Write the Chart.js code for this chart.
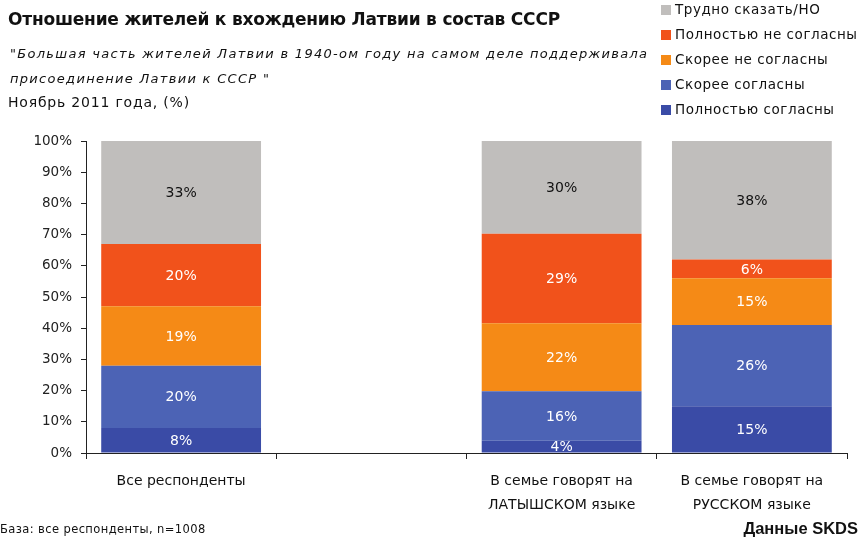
<!DOCTYPE html>
<html>
<head>
<meta charset="utf-8">
<script src="https://cdn.jsdelivr.net/npm/chart.js@4"></script>
<style>
  html, body { margin: 0; padding: 0; background: #fff; }
  body { width: 860px; height: 542px; position: relative; overflow: hidden; font-family: "DejaVu Sans", sans-serif; color: #111; }
  #chartBox { position: absolute; left: 0; top: 0; width: 860px; height: 542px; }
  .txt { position: absolute; white-space: nowrap; }
  #title { left: 8px; top: 9px; font-size: 17px; font-weight: bold; letter-spacing: -0.2px; }
  #sub1 { left: 10px; top: 46px; font-size: 13px; font-style: italic; letter-spacing: 1.3px; }
  #sub2 { left: 10px; top: 71px; font-size: 13px; font-style: italic; letter-spacing: 1.3px; }
  #period { left: 8px; top: 94px; font-size: 14px; letter-spacing: 0.8px; }
  #legend { position: absolute; left: 661px; top: 0px; }
  .leg { position: absolute; left: 0; white-space: nowrap; font-size: 13.5px; letter-spacing: 0.55px; }
  .leg span { display: inline-block; width: 10px; height: 10px; margin-right: 4px; vertical-align: -1px; }
  #base { left: 0; top: 522px; font-size: 11.5px; letter-spacing: 0.4px; }
  #src { right: 2px; top: 519px; font-size: 16.5px; font-weight: bold; font-family: "Liberation Sans Narrow", "Liberation Sans", sans-serif; }
</style>
</head>
<body>
<div id="chartBox"><canvas id="chart" width="860" height="542"></canvas></div>
<div class="txt" id="title">Отношение жителей к вхождению Латвии в состав СССР</div>
<div class="txt" id="sub1">"Большая часть жителей Латвии в 1940-ом году на самом деле поддерживала</div>
<div class="txt" id="sub2">присоединение Латвии к СССР "</div>
<div class="txt" id="period">Ноябрь 2011 года, (%)</div>
<div id="legend"></div>
<div class="txt" id="base">База: все респонденты, n=1008</div>
<div class="txt" id="src">Данные SKDS</div>
<script>
  // categories (second one is an empty spacer slot)
  const categories = [
    "Все респонденты",
    "",
    ["В семье говорят на", "ЛАТЫШСКОМ языке"],
    ["В семье говорят на", "РУССКОМ языке"],
  ];

  // series, bottom to top of the stack
  const seriesNames = [
    "Полностью согласны",
    "Скорее согласны",
    "Скорее не согласны",
    "Полностью не согласны",
    "Трудно сказать/НО",
  ];
  const fullyAgree = [8, null, 4, 15];
  const ratherAgree = [20, null, 16, 26];
  const ratherDisagree = [19, null, 22, 15];
  const fullyDisagree = [20, null, 29, 6];
  const hardToSay = [33, null, 30, 38];

  const seriesColors = ["#3a4ba6", "#4c63b5", "#f58a16", "#f1521b", "#c0bebc"];
  const labelColors = ["#fff", "#fff", "#fff", "#fff", "#111"];
  const yTicks = [0, 10, 20, 30, 40, 50, 60, 70, 80, 90, 100];

  const seriesValues = [fullyAgree, ratherAgree, ratherDisagree, fullyDisagree, hardToSay];

  // 100% stacked: share of each category total
  const totals = categories.map((c, i) =>
    seriesValues.reduce((s, arr) => s + (arr[i] || 0), 0)
  );
  const datasets = seriesValues.map((arr, k) => ({
    label: seriesNames[k],
    data: arr.map((v, i) => (v == null ? null : (v / totals[i]) * 100)),
    raw: arr,
    backgroundColor: seriesColors[k],
    borderWidth: 0,
    categoryPercentage: 1,
    barPercentage: 0.84,
  }));

  // legend, top row = last series
  const legendBox = document.getElementById("legend");
  seriesNames.slice().reverse().forEach((name, j) => {
    const k = seriesNames.length - 1 - j;
    const row = document.createElement("div");
    row.className = "leg";
    row.style.top = (1 + j * 25) + "px";
    row.innerHTML = '<span style="background:' + seriesColors[k] + '"></span>' + name;
    legendBox.appendChild(row);
  });

  // segment value labels
  const segmentLabels = {
    id: "segmentLabels",
    afterDatasetsDraw(chart) {
      const ctx = chart.ctx;
      ctx.save();
      ctx.font = '14px "DejaVu Sans", sans-serif';
      ctx.textAlign = "center";
      ctx.textBaseline = "middle";
      chart.data.datasets.forEach((ds, k) => {
        const meta = chart.getDatasetMeta(k);
        meta.data.forEach((bar, i) => {
          if (ds.raw[i] == null) return;
          const p = bar.getProps(["x", "y", "base"], true);
          ctx.fillStyle = labelColors[k];
          ctx.fillText(ds.raw[i] + "%", p.x, (p.y + p.base) / 2 + 1);
        });
      });
      ctx.restore();
    },
  };

  const ctx = document.getElementById("chart").getContext("2d");
  const chart = new Chart(ctx, {
    type: "bar",
    data: { labels: categories, datasets: datasets },
    options: {
      responsive: false,
      animation: false,
      events: [],
      layout: { padding: { left: 0, right: 13, top: 141, bottom: 19 } },
      plugins: { legend: { display: false }, tooltip: { enabled: false } },
      scales: {
        x: {
          stacked: true,
          grid: { offset: true, drawOnChartArea: false, drawTicks: true, tickLength: 6, color: "#222" },
          border: { display: true, color: "#222", width: 1 },
          ticks: {
            color: "#111",
            padding: 10,
            maxRotation: 0,
            autoSkip: false,
            font: { family: "DejaVu Sans", size: 14, lineHeight: 1.75 },
          },
          afterFit(axis) { axis.height = 70; },
        },
        y: {
          stacked: true,
          min: 0,
          max: 100,
          afterBuildTicks(axis) { axis.ticks = yTicks.map((v) => ({ value: v })); },
          grid: { drawOnChartArea: false, drawTicks: true, tickLength: 5, color: "#222" },
          border: { display: true, color: "#222", width: 1 },
          ticks: {
            color: "#222",
            padding: 9,
            font: { family: "DejaVu Sans", size: 13.5 },
            callback: (v) => v + "%",
          },
          afterFit(axis) { axis.width = 86; },
        },
      },
    },
    plugins: [segmentLabels],
  });
</script>
</body>
</html>
